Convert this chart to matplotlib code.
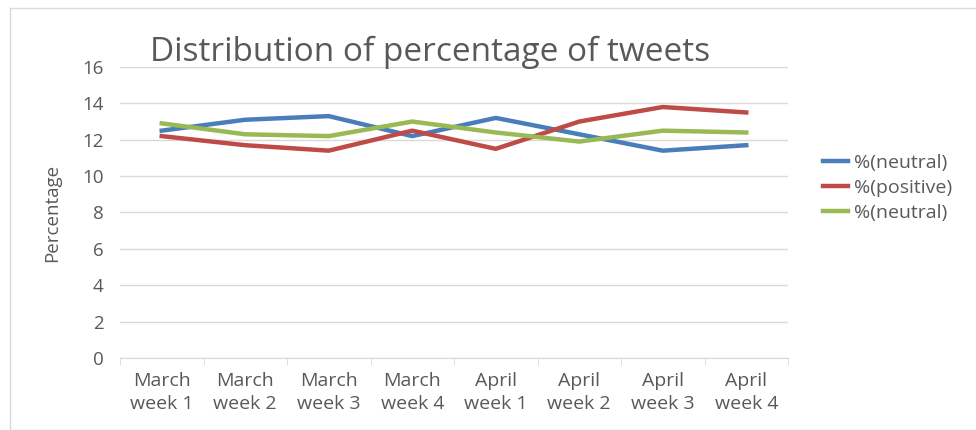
import matplotlib
matplotlib.use("Agg")
import matplotlib.pyplot as plt
import numpy as np

categories = ["March\nweek 1", "March\nweek 2", "March\nweek 3", "March\nweek 4",
              "April\nweek 1", "April\nweek 2", "April\nweek 3", "April\nweek 4"]
neutral_a = [12.5, 13.1, 13.3, 12.2, 13.2, 12.3, 11.4, 11.7]
positive = [12.2, 11.7, 11.4, 12.5, 11.5, 13.0, 13.8, 13.5]
neutral_b = [12.9, 12.3, 12.2, 13.0, 12.4, 11.9, 12.5, 12.4]
yticks = [0, 2, 4, 6, 8, 10, 12, 14, 16]

plt.rcParams['font.family'] = ['Open Sans', 'DejaVu Sans']
txt = '#595959'
fig = plt.figure(figsize=(9.76, 4.30), dpi=100)
fig.add_artist(plt.Rectangle((10/976, 0), 1, 1 - 8/430, transform=fig.transFigure,
                             fill=False, edgecolor='#d9d9d9', linewidth=1))
ax = fig.add_axes([120/976, 72/430, 668/976, 291/430])
x = np.arange(len(categories))
ax.plot(x, neutral_a, color='#4a7ebb', lw=3.2, label='%(neutral)')
ax.plot(x, positive, color='#be4b48', lw=3.2, label='%(positive)')
ax.plot(x, neutral_b, color='#98b954', lw=3.2, label='%(neutral)')
ax.set_xlim(-0.5, len(categories) - 0.5)
ax.set_ylim(0, 16)
ax.set_yticks(yticks)
ax.set_yticklabels([str(v) for v in yticks], color=txt, fontsize=13.5)
ax.set_xticks(x)
ax.set_xticklabels(categories, color=txt, fontsize=14, linespacing=1.35)
ax.set_xticks(np.arange(-0.5, len(categories)), minor=True)
ax.tick_params(axis='x', which='major', length=0, pad=10)
ax.tick_params(axis='x', which='minor', length=5, color='#d9d9d9')
ax.tick_params(axis='y', length=0, pad=12)
ax.grid(axis='y', color='#d9d9d9', lw=1)
ax.set_axisbelow(True)
for s in ['top', 'right', 'left']:
    ax.spines[s].set_visible(False)
ax.spines['bottom'].set_color('#d9d9d9')
ax.set_ylabel('Percentage', color=txt, fontsize=13.5, labelpad=15)
fig.text(150/976, 1 - 52/430, 'Distribution of percentage of tweets', fontsize=24,
         color=txt, va='center', ha='left')
ax.legend(loc='center left', bbox_to_anchor=(805/976, 242/430), bbox_transform=fig.transFigure,
          frameon=False, fontsize=14, labelcolor=txt, handlelength=1.3, handletextpad=0.3,
          labelspacing=0.35)
fig.savefig('out.png', dpi=100)
